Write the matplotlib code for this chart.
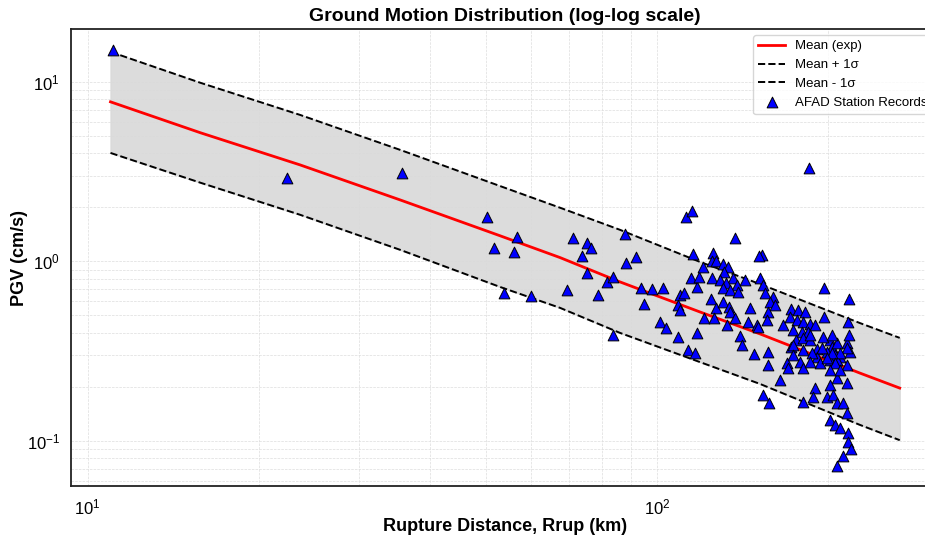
import matplotlib
matplotlib.use("Agg")
import matplotlib.pyplot as plt

plt.rcParams['font.family'] = ['Liberation Sans', 'DejaVu Sans']
plt.rcParams['mathtext.fontset'] = 'custom'
plt.rcParams['mathtext.rm'] = 'Liberation Sans'
plt.rcParams['mathtext.it'] = 'Liberation Sans:italic'

# mean and +/- 1 sigma curves
curve_rrup = [10.97, 15.8, 23.6, 35.4, 53.0, 67.6, 86.1, 119.0, 151.6, 227.1, 267.0]
mean_pgv = [7.74, 5.20, 3.45, 2.20, 1.39, 1.05, 0.769, 0.523, 0.395, 0.239, 0.197]
upper_pgv = [14.7, 9.87, 6.55, 4.18, 2.63, 1.99, 1.50, 0.994, 0.749, 0.454, 0.375]
lower_pgv = [4.02, 2.74, 1.82, 1.16, 0.721, 0.551, 0.400, 0.275, 0.208, 0.123, 0.101]

# station records
rrup = [11.1, 22.4, 35.6, 50.3, 51.8, 56.1, 56.8, 53.9, 60.1, 69.5,
        71.2, 75.4, 76.6, 73.8, 75.4, 78.8, 81.7, 83.7, 87.9, 91.9,
        88.2, 83.7, 93.7, 94.9, 98.0, 102.4, 101.2, 103.7, 108.8, 117.5,
        113.3, 116.6, 112.4, 115.2, 184.8, 152.8, 137.0,
        109.7, 111.5, 108.8, 109.7, 114.7, 117.5, 118.5, 120.4, 115.7,
        125.4, 124.9, 126.9, 130.6, 133.2, 131.1, 124.9, 129.0, 135.9,
        132.1, 138.2, 130.6, 134.3, 138.7, 124.4, 126.9, 130.6, 133.8,
        134.3, 120.9, 125.9, 132.7, 137.0, 142.7, 144.4, 145.6, 149.8,
        139.8, 140.9, 148.0, 151.0, 151.6, 153.5, 154.7, 159.8, 157.8,
        161.1, 156.6, 156.0, 150.4,
        156.6, 156.6, 164.3, 153.5, 157.2, 171.8, 176.8, 181.8, 171.1,
        176.1, 180.4, 185.5, 166.4, 173.2, 179.7, 184.1, 189.3, 175.4,
        180.4, 185.5, 171.8, 190.9, 196.3, 217.2, 196.3, 201.2, 202.8,
        206.9, 195.5, 198.7, 215.4, 217.2, 216.3, 218.1, 205.3, 209.5,
        169.0, 169.7, 178.2, 180.4, 190.9, 201.2, 206.9, 215.4, 206.9,
        201.2, 215.4, 189.3, 187.8, 198.7, 203.6, 206.9, 212.0, 180.4,
        215.4, 201.2, 205.3, 209.5, 216.3, 216.3, 218.9, 212.0, 206.9,
        185.5, 202.8, 194.7, 215.4, 209.5, 202.8, 193.2, 205.3, 173.2,
        180.4, 187.0, 173.2, 185.5, 209.5, 201.2, 198.7]
pgv = [15.1, 2.92, 3.11, 1.77, 1.19, 1.13, 1.37, 0.667, 0.643, 0.693,
       1.35, 1.27, 1.18, 1.07, 0.861, 0.650, 0.768, 0.819, 1.43, 1.06,
       0.981, 0.389, 0.711, 0.580, 0.702, 0.711, 0.460, 0.426, 0.379, 0.399,
       0.321, 0.309, 1.77, 1.92, 3.32, 1.09, 1.35,
       0.650, 0.667, 0.573, 0.537, 0.808, 0.720, 0.819, 0.930, 1.10,
       1.12, 1.01, 1.01, 0.969, 0.930, 0.873, 0.808, 0.788, 0.808,
       0.758, 0.739, 0.711, 0.693, 0.676, 0.619, 0.551, 0.596, 0.558,
       0.523, 0.484, 0.484, 0.443, 0.484, 0.788, 0.460, 0.551, 0.443,
       0.384, 0.342, 0.305, 1.07, 0.808, 0.739, 0.667, 0.635, 0.596,
       0.573, 0.523, 0.472, 0.431,
       0.313, 0.265, 0.219, 0.180, 0.163, 0.544, 0.537, 0.523, 0.490,
       0.472, 0.460, 0.448, 0.443, 0.415, 0.405, 0.405, 0.443, 0.365,
       0.374, 0.365, 0.334, 0.325, 0.711, 0.619, 0.490, 0.365, 0.334,
       0.351, 0.379, 0.313, 0.351, 0.389, 0.460, 0.313, 0.301, 0.293,
       0.272, 0.255, 0.276, 0.255, 0.293, 0.283, 0.283, 0.265, 0.225,
       0.205, 0.211, 0.197, 0.175, 0.175, 0.180, 0.163, 0.163, 0.165,
       0.143, 0.131, 0.123, 0.118, 0.111, 0.0985, 0.0903, 0.0825, 0.0725,
       0.389, 0.389, 0.329, 0.329, 0.309, 0.309, 0.272, 0.272, 0.342,
       0.321, 0.309, 0.301, 0.276, 0.249, 0.249, 0.290]

fig = plt.figure(figsize=(9.25, 5.37), dpi=100)
# axes run a little past the right edge, like the cropped original
ax = fig.add_axes([71/925, 51/537, 868/925, 457/537])

ax.fill_between(curve_rrup, lower_pgv, upper_pgv, color='#d9d9d9', alpha=0.9, zorder=1)
ax.plot(curve_rrup, mean_pgv, color='red', lw=2, label='Mean (exp)', zorder=3)
ax.plot(curve_rrup, upper_pgv, color='black', ls='--', lw=1.4, label='Mean + 1σ', zorder=3)
ax.plot(curve_rrup, lower_pgv, color='black', ls='--', lw=1.4, label='Mean - 1σ', zorder=3)
ax.scatter(rrup, pgv, marker='^', s=60, c='blue', edgecolors='black', linewidths=0.7,
           label='AFAD Station Records', zorder=4)

ax.set_xscale('log')
ax.set_yscale('log')
ax.set_xlim(9.35, 313)
ax.set_ylim(0.0561, 19.7)

ax.grid(True, which='both', ls='--', lw=0.5, color='#dddddd', zorder=0)
ax.set_axisbelow(True)
for s in ax.spines.values():
    s.set_color('#222222')
    s.set_linewidth(1.3)
ax.tick_params(which='both', length=0, labelsize=12)
ax.tick_params(axis='x', pad=8)
ax.tick_params(axis='y', pad=8)

ax.set_title('Ground Motion Distribution (log-log scale)', fontsize=14, fontweight='bold', pad=6)
ax.set_xlabel('Rupture Distance, Rrup (km)', fontsize=13, fontweight='bold', labelpad=1)
ax.set_ylabel('PGV (cm/s)', fontsize=13, fontweight='bold')
ax.yaxis.set_label_coords(-0.05, 0.5)

leg = ax.legend(loc='upper right', fontsize=9.5, frameon=True, borderaxespad=0.45,
                handlelength=2.0)
leg.get_frame().set_edgecolor('#cccccc')

fig.savefig('out.png', dpi=100)
